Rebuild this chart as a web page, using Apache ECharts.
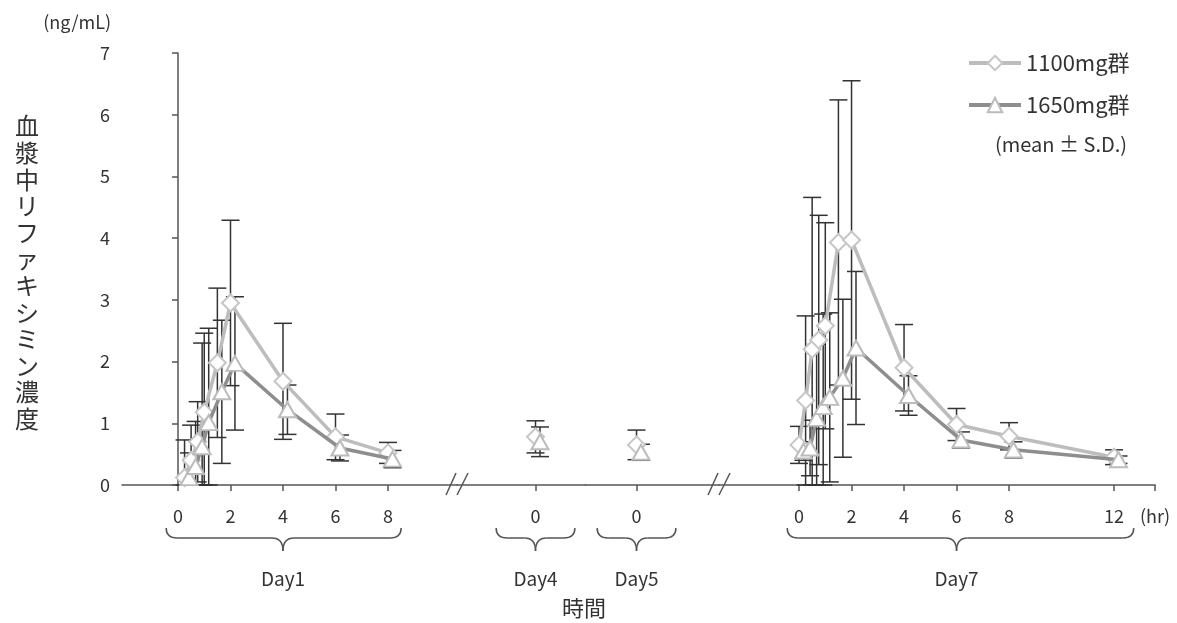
<!DOCTYPE html>
<html><head><meta charset="utf-8">
<script src="https://cdn.jsdelivr.net/npm/echarts@6/dist/echarts.min.js"></script>
<style>html,body{margin:0;padding:0;background:#fff}#c{width:1177px;height:623px}</style>
</head><body><div id="c"></div>
<script>
// ---------------- data ----------------
const seriesNames = ['1100mg群', '1650mg群'];

const day1Hours    = [0.25, 0.5, 0.75, 1, 1.5, 2, 4, 6, 8];
const day1Mean1100 = [0.12, 0.40, 0.70, 1.18, 1.98, 2.95, 1.68, 0.78, 0.52];
const day1SD1100   = [0.61, 0.57, 0.65, 1.28, 1.21, 1.34, 0.94, 0.37, 0.17];
const day1Mean1650 = [0.12, 0.30, 0.62, 1.01, 1.51, 1.97, 1.22, 0.60, 0.42];
const day1SD1650   = [0.40, 0.73, 1.68, 1.53, 1.16, 1.08, 0.40, 0.21, 0.14];

const day4Hours    = [0];
const day4Mean1100 = [0.78];
const day4SD1100   = [0.26];
const day4Mean1650 = [0.70];
const day4SD1650   = [0.24];

const day5Hours    = [0];
const day5Mean1100 = [0.65];
const day5SD1100   = [0.24];
const day5Mean1650 = [0.53];
const day5SD1650   = [0.13];

const day7Hours    = [0, 0.25, 0.5, 0.75, 1, 1.5, 2, 4, 6, 8, 12];
const day7Mean1100 = [0.65, 1.37, 2.20, 2.35, 2.58, 3.93, 3.97, 1.90, 0.98, 0.79, 0.45];
const day7SD1100   = [0.30, 1.37, 2.46, 2.02, 1.67, 2.31, 2.58, 0.70, 0.26, 0.22, 0.12];
const day7Mean1650 = [0.55, 0.60, 1.08, 1.27, 1.42, 1.73, 2.22, 1.45, 0.73, 0.57, 0.41];
const day7SD1650   = [0.15, 0.45, 1.20, 1.50, 1.37, 1.28, 1.24, 0.32, 0.13, 0.13, 0.06];

const day1Ticks = [0, 2, 4, 6, 8];
const day4Ticks = [0];
const day5Ticks = [0];
const day7Ticks = [0, 2, 4, 6, 8, 12];
const dayLabels = ['Day1', 'Day4', 'Day5', 'Day7'];
const xUnitLabel = '(hr)';
const yUnitLabel = '(ng/mL)';
const yTitle = '血漿中リファキシミン濃度';
const xTitle = '時間';
const statNote = '(mean ± S.D.)';

// ---------------- layout / style ----------------
const PX_PER_HR = 26.25;
const AXIS_LEFT = 122;
const GRID_TOP = 53;
const GRID_H = 432;
const DODGE_HR = 0.17;          // small horizontal dodge of the 1650mg markers
const FONT = '"Noto Sans CJK JP", "Noto Sans", sans-serif';
const AXIS_COLOR = '#555';
const TEXT_COLOR = '#333';

const segments = [
  { min: -2.133, max: 10.63, ticks: day1Ticks, hours: day1Hours,
    m: [day1Mean1100, day1Mean1650], s: [day1SD1100, day1SD1650], brace: [-0.45, 8.5, 4] },
  { min: -2.99, max: 1.905, ticks: day4Ticks, hours: day4Hours,
    m: [day4Mean1100, day4Mean1650], s: [day4SD1100, day4SD1650], brace: [-1.5, 1.5, 0] },
  { min: -1.943, max: 3.143, ticks: day5Ticks, hours: day5Hours,
    m: [day5Mean1100, day5Mean1650], s: [day5SD1100, day5SD1650], brace: [-1.5, 1.5, 0] },
  { min: -3.048, max: 13.562, ticks: day7Ticks, hours: day7Hours,
    m: [day7Mean1100, day7Mean1650], s: [day7SD1100, day7SD1650], brace: [-0.45, 12.75, 6], endLabel: true }
];

const groupStyle = [
  { symbol: 'diamond', symbolSize: [17, 17], line: '#bdbdbd', border: '#c6c6c6', dodge: 0 },
  { symbol: 'triangle', symbolSize: [17, 15], line: '#8e8e8e', border: '#bcbcbc', dodge: DODGE_HR }
];

const chart = echarts.init(document.getElementById('c'));

const grids = [], xAxes = [], yAxes = [], series = [];
let left = AXIS_LEFT;
segments.forEach((seg, i) => {
  const w = (seg.max - seg.min) * PX_PER_HR;
  seg.left = left;
  grids.push({ left: left, top: GRID_TOP, width: w, height: GRID_H, containLabel: false });
  left += w;
  const tickVals = seg.endLabel ? seg.ticks.concat([seg.max]) : seg.ticks.slice();
  xAxes.push({
    type: 'value', gridIndex: i, min: seg.min, max: seg.max,
    axisLine: { show: true, onZero: false, lineStyle: { color: AXIS_COLOR, width: 1.5 } },
    axisTick: { show: true, customValues: tickVals, length: 6, lineStyle: { color: AXIS_COLOR, width: 1.5 } },
    axisLabel: {
      customValues: tickVals, showMinLabel: true, showMaxLabel: true,
      formatter: v => (seg.endLabel && Math.abs(v - seg.max) < 1e-6) ? xUnitLabel : String(v),
      margin: 22, fontSize: 18, color: TEXT_COLOR, fontFamily: FONT
    },
    splitLine: { show: false }
  });
  yAxes.push({
    type: 'value', gridIndex: i, min: 0, max: 7, interval: 1, show: i === 0,
    axisLine: { show: true, lineStyle: { color: AXIS_COLOR, width: 1.5 } },
    axisTick: { show: true, length: 6, lineStyle: { color: AXIS_COLOR, width: 1.5 } },
    axisLabel: { fontSize: 18, color: TEXT_COLOR, margin: 12, fontFamily: FONT },
    splitLine: { show: false }
  });

  [0, 1].forEach(g => {
    const st = groupStyle[g];
    const mean = seg.m[g], sd = seg.s[g];
    series.push({
      type: 'custom', name: 'sd' + g + '_' + i, xAxisIndex: i, yAxisIndex: i, z: 2, silent: true,
      data: seg.hours.map((h, k) => [h + st.dodge, mean[k], sd[k]]),
      renderItem: (params, api) => {
        const x = api.value(0), m = api.value(1), s = api.value(2);
        const top = api.coord([x, m + s]);
        const bot = api.coord([x, Math.max(0, m - s)]);
        const cw = 9;
        const style = { stroke: '#333', lineWidth: 1.5 };
        return { type: 'group', children: [
          { type: 'line', shape: { x1: top[0], y1: top[1], x2: bot[0], y2: bot[1] }, style },
          { type: 'line', shape: { x1: top[0] - cw, y1: top[1], x2: top[0] + cw, y2: top[1] }, style },
          { type: 'line', shape: { x1: bot[0] - cw, y1: bot[1], x2: bot[0] + cw, y2: bot[1] }, style }
        ]};
      }
    });
    series.push({
      type: 'line', name: seriesNames[g], xAxisIndex: i, yAxisIndex: i, z: 3 + g,
      data: seg.hours.map((h, k) => [h + st.dodge, mean[k]]),
      symbol: st.symbol, symbolSize: st.symbolSize, showAllSymbol: true,
      itemStyle: { color: '#fff', borderColor: st.border, borderWidth: 2 },
      lineStyle: { color: st.line, width: 3.5 },
      emphasis: { disabled: true }
    });
  });
});

chart.setOption({
  animation: false,
  backgroundColor: '#fff',
  textStyle: { fontFamily: FONT },
  grid: grids, xAxis: xAxes, yAxis: yAxes, series: series,
  legend: {
    data: seriesNames, orient: 'vertical', left: 962, top: 47,
    itemWidth: 52, itemHeight: 18, itemGap: 20,
    lineStyle: { width: 4 },
    textStyle: { fontSize: 22, color: TEXT_COLOR, fontFamily: FONT }
  }
});

// ---------------- decorations derived from the axes ----------------
const graphics = [];
const axisY = chart.convertToPixel({ yAxisIndex: 0 }, 0);
const axisTopY = chart.convertToPixel({ yAxisIndex: 0 }, 7);
const dec = { stroke: AXIS_COLOR, lineWidth: 1.5, fill: null };
[1, 3].forEach(i => {
  const xb = segments[i].left;
  [[-11, -1], [0, 11]].forEach(([a, b]) => {
    graphics.push({ type: 'line', shape: { x1: xb + a, y1: axisY + 10, x2: xb + b, y2: axisY - 12 },
      style: dec, z: 10 });
  });
});
const braceTop = axisY + 43;
segments.forEach((seg, i) => {
  const xa = chart.convertToPixel({ xAxisIndex: i }, seg.brace[0]);
  const xe = chart.convertToPixel({ xAxisIndex: i }, seg.brace[1]);
  const xm = chart.convertToPixel({ xAxisIndex: i }, seg.brace[2]);
  const y0 = braceTop, r = 10, d = 23, k = 11;
  graphics.push({ type: 'bezierCurve', shape: { x1: xa, y1: y0, cpx1: xa, cpy1: y0 + r, x2: xa + k, y2: y0 + r }, style: dec });
  graphics.push({ type: 'line', shape: { x1: xa + k, y1: y0 + r, x2: xm - k, y2: y0 + r }, style: dec });
  graphics.push({ type: 'bezierCurve', shape: { x1: xm - k, y1: y0 + r, cpx1: xm, cpy1: y0 + r, x2: xm, y2: y0 + d }, style: dec });
  graphics.push({ type: 'bezierCurve', shape: { x1: xm, y1: y0 + d, cpx1: xm, cpy1: y0 + r, x2: xm + k, y2: y0 + r }, style: dec });
  graphics.push({ type: 'line', shape: { x1: xm + k, y1: y0 + r, x2: xe - k, y2: y0 + r }, style: dec });
  graphics.push({ type: 'bezierCurve', shape: { x1: xe - k, y1: y0 + r, cpx1: xe, cpy1: y0 + r, x2: xe, y2: y0 }, style: dec });
  graphics.push({ type: 'text', x: xm, y: 579, style: { text: dayLabels[i], fontSize: 19, fill: TEXT_COLOR,
    fontFamily: FONT, align: 'center', verticalAlign: 'middle' } });
});
graphics.push({ type: 'text', x: 111, y: axisTopY - 31, style: { text: yUnitLabel, fontSize: 18, fill: TEXT_COLOR,
  fontFamily: FONT, align: 'right', verticalAlign: 'middle' } });
graphics.push({ type: 'text', x: 584, y: 608, style: { text: xTitle, fontSize: 22, fill: TEXT_COLOR,
  fontFamily: FONT, align: 'center', verticalAlign: 'middle' } });
graphics.push({ type: 'text', x: 27, y: 113, style: { text: yTitle.split('').join('\n'), fontSize: 24,
  lineHeight: 26.6, fill: TEXT_COLOR, fontFamily: FONT, align: 'center', verticalAlign: 'top' } });
graphics.push({ type: 'text', x: 995, y: 144, style: { text: statNote, fontSize: 20, fill: TEXT_COLOR,
  fontFamily: FONT, align: 'left', verticalAlign: 'middle' } });
chart.setOption({ graphic: graphics });
</script>
</body></html>
